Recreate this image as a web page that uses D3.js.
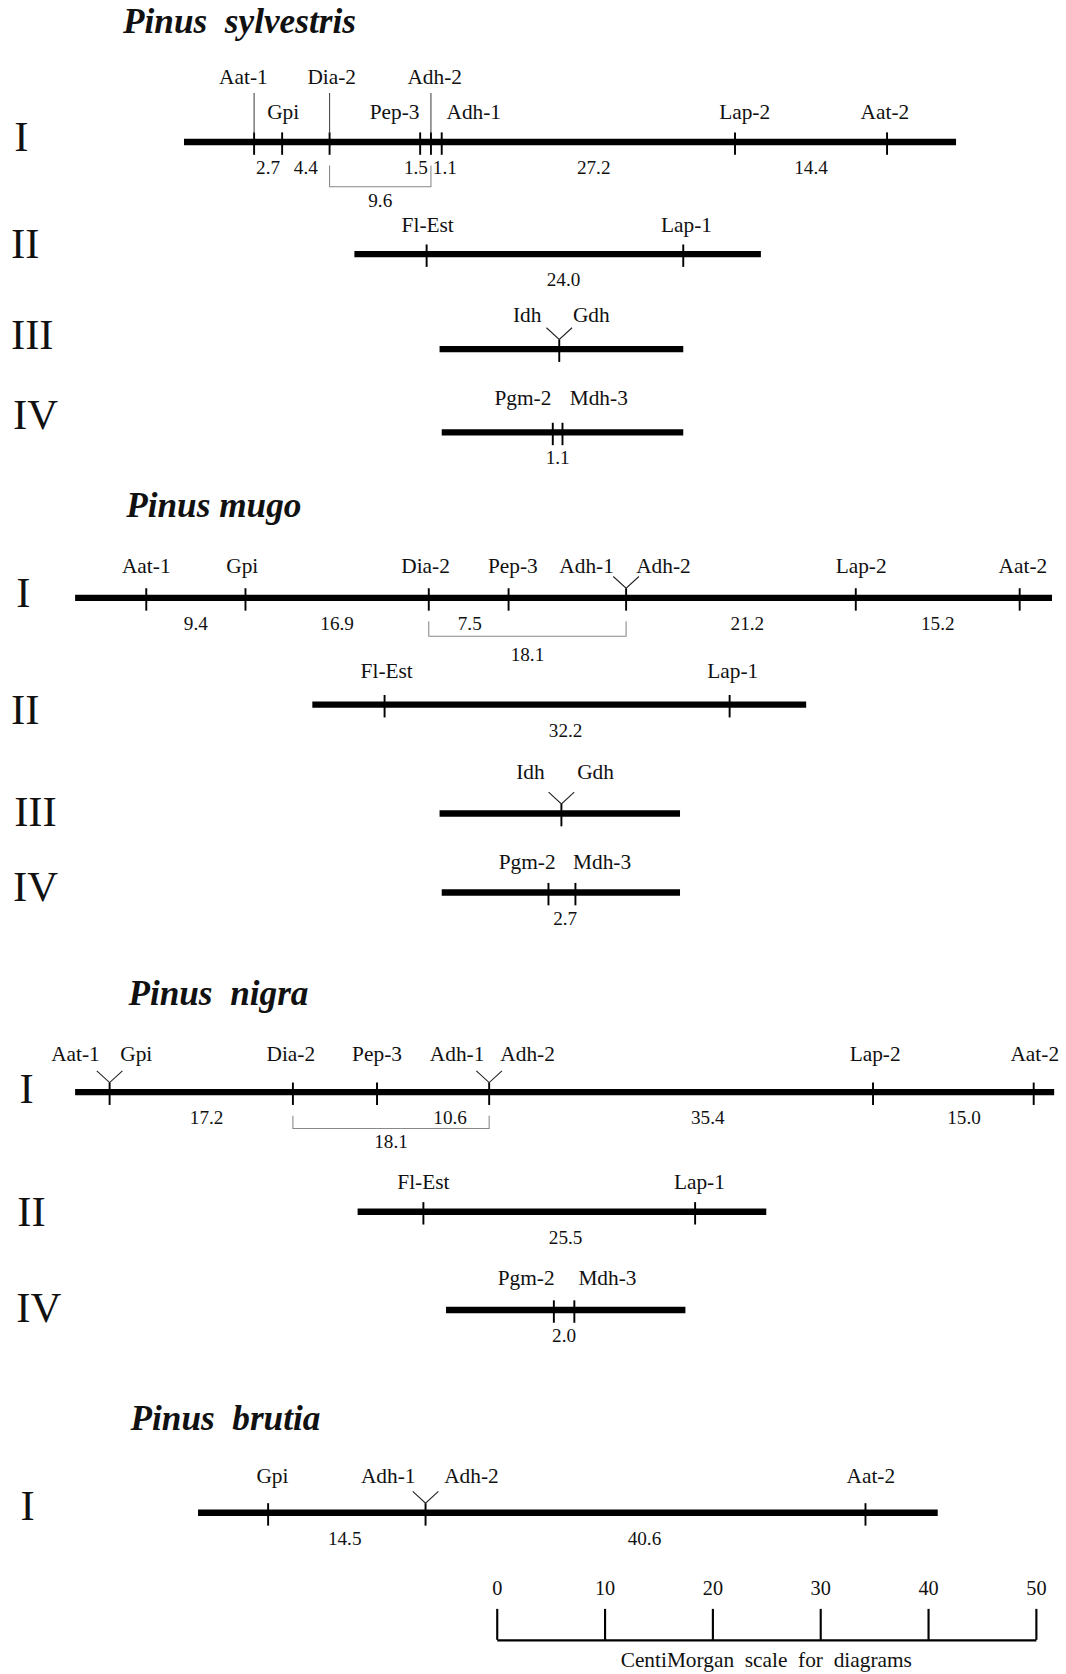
<!DOCTYPE html>
<html>
<head>
<meta charset="utf-8">
<script src="https://cdn.jsdelivr.net/npm/d3@7"></script>
<style>
  html, body { margin: 0; padding: 0; background: #fff; }
  svg { display: block; }
  text { font-family: "Liberation Serif", "Times New Roman", serif; fill: #111; }
</style>
</head>
<body>
<svg id="chart"></svg>
<script>
// ---- data ----
const speciesNames = ["Pinus  sylvestris", "Pinus mugo", "Pinus  nigra", "Pinus  brutia"];

// one entry per linkage group, top to bottom
const groupSpecies = [0, 0, 0, 0, 1, 1, 1, 1, 2, 2, 2, 3];
const groupNumerals = ["I", "II", "III", "IV", "I", "II", "III", "IV", "I", "II", "IV", "I"];

// drawn extent of each group, in cM on a shared axis
const groupExtent = [
  [11.1, 82.7], [26.9, 64.6], [34.8, 57.4], [35.0, 57.4],
  [1.0, 91.6], [23.0, 68.8], [34.8, 57.1], [35.0, 57.1],
  [1.0, 91.8], [27.2, 65.1], [35.4, 57.6],
  [12.4, 81.0]
];

const groupLoci = [
  ["Aat-1", "Gpi", "Dia-2", "Pep-3", "Adh-2", "Adh-1", "Lap-2", "Aat-2"],
  ["Fl-Est", "Lap-1"],
  ["Idh", "Gdh"],
  ["Pgm-2", "Mdh-3"],
  ["Aat-1", "Gpi", "Dia-2", "Pep-3", "Adh-1", "Adh-2", "Lap-2", "Aat-2"],
  ["Fl-Est", "Lap-1"],
  ["Idh", "Gdh"],
  ["Pgm-2", "Mdh-3"],
  ["Aat-1", "Gpi", "Dia-2", "Pep-3", "Adh-1", "Adh-2", "Lap-2", "Aat-2"],
  ["Fl-Est", "Lap-1"],
  ["Pgm-2", "Mdh-3"],
  ["Gpi", "Adh-1", "Adh-2", "Aat-2"]
];

// locus positions (cM, same shared axis)
const groupPositions = [
  [17.6, 20.2, 24.6, 33.0, 34.0, 35.0, 62.2, 76.3],
  [33.6, 57.4],
  [45.9, 45.9],
  [45.3, 46.2],
  [7.6, 16.8, 33.8, 41.2, 52.1, 52.1, 73.4, 88.6],
  [29.7, 61.7],
  [46.1, 46.1],
  [44.9, 47.4],
  [4.2, 4.2, 21.2, 29.0, 39.4, 39.4, 75.0, 89.9],
  [33.3, 58.5],
  [45.4, 47.3],
  [18.9, 33.5, 33.5, 74.3]
];

// printed distances: [from locus, to locus, label]
const groupIntervals = [
  [[0, 1, "2.7"], [1, 2, "4.4"], [3, 4, "1.5"], [4, 5, "1.1"], [5, 6, "27.2"], [6, 7, "14.4"]],
  [[0, 1, "24.0"]],
  [],
  [[0, 1, "1.1"]],
  [[0, 1, "9.4"], [1, 2, "16.9"], [2, 3, "7.5"], [5, 6, "21.2"], [6, 7, "15.2"]],
  [[0, 1, "32.2"]],
  [],
  [[0, 1, "2.7"]],
  [[1, 2, "17.2"], [3, 4, "10.6"], [5, 6, "35.4"], [6, 7, "15.0"]],
  [[0, 1, "25.5"]],
  [[0, 1, "2.0"]],
  [[0, 1, "14.5"], [2, 3, "40.6"]]
];

// bracketed distances spanning several loci
const groupBrackets = [
  [[2, 4, "9.6"]], [], [], [],
  [[2, 4, "18.1"]], [], [], [],
  [[2, 4, "18.1"]], [], [],
  []
];

const scaleTicks = [0, 10, 20, 30, 40, 50];
const scaleCaption = "CentiMorgan  scale  for  diagrams";

// ---- layout (px in a 998 x 1568 frame) ----
const W = 998, H = 1568;
const titleAt = [[115, 31], [118, 484], [120, 941], [122, 1339]];
const lineY = [133, 238, 327, 405, 560, 660, 762, 836, 1023, 1135, 1227, 1417];
const numeralAt = [[13, 128], [10, 228], [10, 313], [12, 388], [15, 555], [10, 665],
  [13, 760], [12, 830], [18, 1020], [16, 1135], [15, 1225], [19, 1410]];
const labelDy = [-22, -21, -25, -26, -23, -25, -32, -22, -29, -21, -23, -28];
const labelDx = [
  [-10, 1, 2, -24, 3.5, 30, 9, -2],
  [1, 3], [-30, 30], [-28, 34],
  [0, -3, -3, 4, -37, 35, 5, 3],
  [2, 3], [-29, 32], [-20, 25],
  [-32, 25, -2, 0, -30, 36, 2, 1],
  [0, 4], [-26, 31],
  [4, -35, 43, 5]
];
const intervalDx = [[0, 0, -9, 8, 5, 0], [8], [], [0], [0, 0, 1, 6, 0], [8], [], [3],
  [5, 16, 25, 10], [6], [0], [-2, -1]];
// labels lifted to a second row with a vertical leader (P. sylvestris I)
const upperRow = { 0: [0, 2, 4] };
const bracketDy = { 0: [42, 61], 4: [36, 59], 8: [34, 52] };

const svg = d3.select("#chart")
  .attr("width", 1066)
  .attr("height", 1674)
  .attr("viewBox", `0 0 ${W} ${H}`);

const x = d3.scaleLinear().domain([0, 100]).range([60, 1070]);
const xScaleBar = d3.scaleLinear().domain([0, 50]).range([465, 970]);

// species titles
svg.selectAll("text.title")
  .data(speciesNames)
  .enter()
  .append("text")
  .attr("class", "title")
  .attr("x", (d, i) => titleAt[i][0])
  .attr("y", (d, i) => titleAt[i][1])
  .style("font-size", "33px")
  .style("font-weight", "bold")
  .style("font-style", "italic")
  .style("white-space", "pre")
  .text(d => d);

groupLoci.forEach((loci, g) => {
  const y = lineY[g];
  const pos = groupPositions[g];
  const grp = svg.append("g").attr("class", "group-" + g);

  grp.append("text")
    .attr("x", numeralAt[g][0])
    .attr("y", numeralAt[g][1])
    .attr("dy", "0.34em")
    .style("font-size", "40px")
    .text(groupNumerals[g]);

  grp.append("line")
    .attr("x1", x(groupExtent[g][0]))
    .attr("x2", x(groupExtent[g][1]))
    .attr("y1", y).attr("y2", y)
    .attr("stroke", "#000")
    .attr("stroke-width", 6);

  const uniquePos = Array.from(new Set(pos));
  grp.selectAll("line.tick")
    .data(uniquePos)
    .enter()
    .append("line")
    .attr("class", "tick")
    .attr("x1", d => x(d)).attr("x2", d => x(d))
    .attr("y1", y - 9).attr("y2", y + 12)
    .attr("stroke", "#000")
    .attr("stroke-width", 1.8);

  // V-shaped leader where two loci sit on the same spot
  uniquePos.forEach(p => {
    if (pos.filter(q => q === p).length > 1) {
      const px = x(p);
      grp.append("path")
        .attr("d", `M${px - 12},${y - 20}L${px},${y - 9}L${px + 12},${y - 20}`)
        .attr("fill", "none")
        .attr("stroke", "#222")
        .attr("stroke-width", 1);
    }
  });

  const lifted = upperRow[g] || [];
  lifted.forEach(i => {
    grp.append("line")
      .attr("x1", x(pos[i])).attr("x2", x(pos[i]))
      .attr("y1", y - 46).attr("y2", y - 8)
      .attr("stroke", "#444")
      .attr("stroke-width", 1);
  });

  grp.selectAll("text.locus")
    .data(loci)
    .enter()
    .append("text")
    .attr("class", "locus")
    .attr("x", (d, i) => x(pos[i]) + labelDx[g][i])
    .attr("y", (d, i) => y + (lifted.includes(i) ? -54 : labelDy[g]))
    .attr("text-anchor", "middle")
    .style("font-size", "20px")
    .text(d => d);

  grp.selectAll("text.dist")
    .data(groupIntervals[g])
    .enter()
    .append("text")
    .attr("class", "dist")
    .attr("x", (d, i) => (x(pos[d[0]]) + x(pos[d[1]])) / 2 + intervalDx[g][i])
    .attr("y", y + 30)
    .attr("text-anchor", "middle")
    .style("font-size", "18px")
    .text(d => d[2]);

  groupBrackets[g].forEach(b => {
    const x1 = x(pos[b[0]]), x2 = x(pos[b[1]]);
    const [by, ty] = bracketDy[g];
    grp.append("path")
      .attr("d", `M${x1},${y + 22}V${y + by}H${x2}V${y + 22}`)
      .attr("fill", "none")
      .attr("stroke", "#888")
      .attr("stroke-width", 1);
    grp.append("text")
      .attr("x", (x1 + x2) / 2)
      .attr("y", y + ty)
      .attr("text-anchor", "middle")
      .style("font-size", "18px")
      .text(b[2]);
  });
});

// centiMorgan scale bar
const scaleAxis = svg.append("g")
  .attr("transform", "translate(0,1536)")
  .call(d3.axisTop(xScaleBar)
    .tickValues(scaleTicks)
    .tickSize(29)
    .tickSizeOuter(0)
    .tickPadding(13));

scaleAxis.select(".domain").attr("stroke", "#000").attr("stroke-width", 2);
scaleAxis.selectAll(".tick line").attr("stroke", "#000").attr("stroke-width", 2);
scaleAxis.selectAll(".tick text")
  .attr("fill", "#111")
  .style("font-family", "'Liberation Serif', serif")
  .style("font-size", "19px");

svg.append("text")
  .attr("x", (xScaleBar(0) + xScaleBar(50)) / 2)
  .attr("y", 1561)
  .attr("text-anchor", "middle")
  .style("font-size", "20px")
  .style("white-space", "pre")
  .text(scaleCaption);
</script>
</body>
</html>
